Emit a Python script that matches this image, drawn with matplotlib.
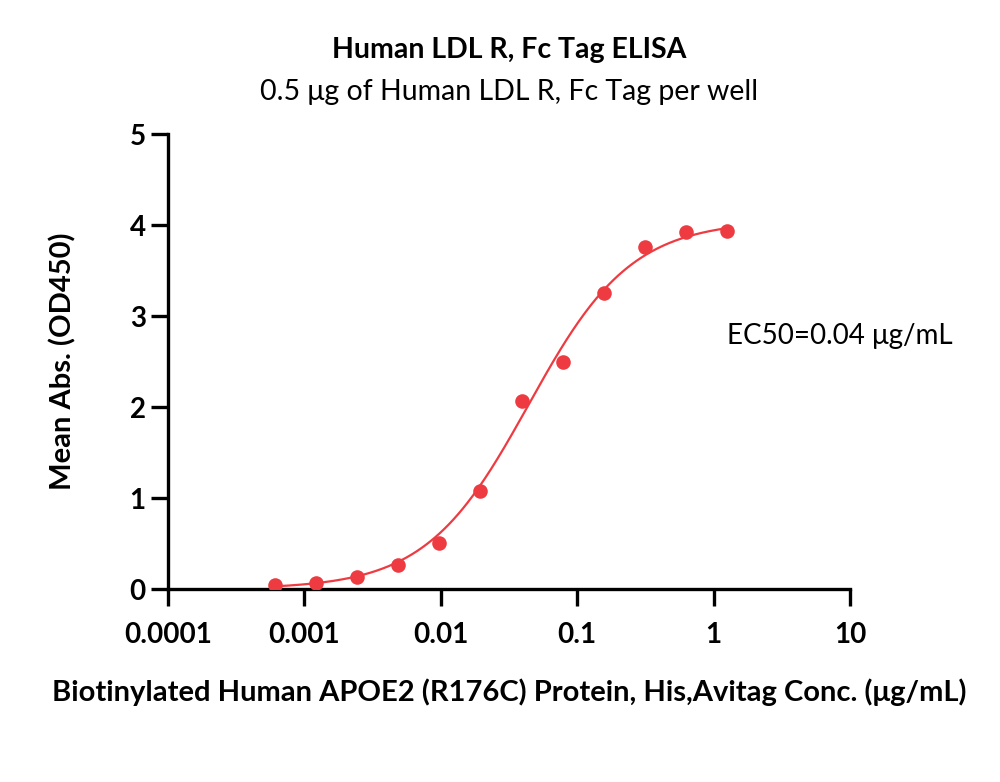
import numpy as np
import matplotlib
matplotlib.use("Agg")
import matplotlib.pyplot as plt

# Data
conc = [1.25, 0.625, 0.3125, 0.15625, 0.078125, 0.0390625, 0.01953125,
        0.009765625, 0.0048828125, 0.00244140625, 0.001220703125, 0.0006103515625]
od450 = [3.93, 3.92, 3.76, 3.25, 2.50, 2.07, 1.08, 0.51, 0.26, 0.13, 0.07, 0.04]

# 4PL fit parameters (estimated from the drawn curve)
fit_bottom = 0.0
fit_top = 4.05
fit_ec50 = 0.044
fit_hill = 1.15

xticks = [0.0001, 0.001, 0.01, 0.1, 1, 10]
xticklabels = ["0.0001", "0.001", "0.01", "0.1", "1", "10"]
yticks = [0, 1, 2, 3, 4, 5]

title = "Human LDL R, Fc Tag ELISA"
subtitle = "0.5 \u03bcg of Human LDL R, Fc Tag per well"
xlabel = "Biotinylated Human APOE2 (R176C) Protein, His,Avitag Conc. (\u03bcg/mL)"
ylabel = "Mean Abs. (OD450)"
ec50_text = "EC50=0.04 \u03bcg/mL"

plt.rcParams['font.family'] = ['Lato', 'DejaVu Sans']
red = "#EE3B41"

fig = plt.figure(figsize=(10, 7.82), dpi=100)
ax = fig.add_axes([0.168, 0.2468, 0.682, 0.5818])

xs = np.logspace(np.log10(min(conc)), np.log10(max(conc)), 300)
ys = fit_bottom + (fit_top - fit_bottom) / (1 + (fit_ec50 / xs) ** fit_hill)
ax.plot(xs, ys, color=red, lw=1.6, zorder=2)
ax.plot(conc, od450, 'o', color=red, markersize=10.5, markeredgewidth=0, zorder=3)

ax.set_xscale('log')
ax.set_xlim(0.0001, 10)
ax.set_ylim(0, 5)
ax.set_xticks(xticks)
ax.set_xticklabels(xticklabels)
ax.minorticks_off()
ax.set_yticks(yticks)
for s in ['top', 'right']:
    ax.spines[s].set_visible(False)
for s in ['left', 'bottom']:
    ax.spines[s].set_linewidth(2.4)
ax.tick_params(axis='both', width=2.4, length=12, labelsize=20)
ax.tick_params(axis='x', pad=12)
ax.tick_params(axis='y', pad=4)
for lab in ax.get_xticklabels() + ax.get_yticklabels():
    lab.set_fontweight('bold')

ax.set_xlabel(xlabel, fontsize=21, fontweight='bold', labelpad=22)
ax.set_ylabel(ylabel, fontsize=21, fontweight='bold', labelpad=38)

fig.text(0.509, 1 - 50 / 782, title, ha='center', va='center', fontsize=20.5, fontweight='bold')
fig.text(0.509, 1 - 92 / 782, subtitle, ha='center', va='center', fontsize=20.5)
fig.text(0.727, 1 - 336 / 782, ec50_text, ha='left', va='center', fontsize=20)

fig.savefig("out.png", dpi=100)
